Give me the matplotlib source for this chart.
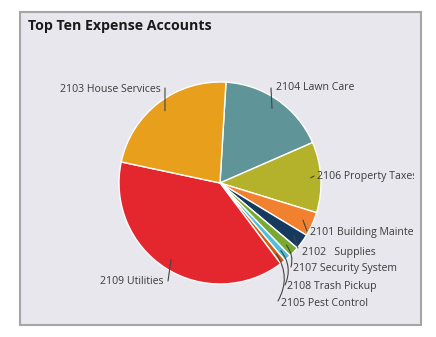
import numpy as np
import matplotlib

matplotlib.use("Agg")
import matplotlib.pyplot as plt
from matplotlib.patches import Rectangle
from matplotlib.transforms import Bbox, TransformedBbox

# accounts listed clockwise starting from the top of the pie
accounts = [
  "2104 Lawn Care",
  "2106 Property Taxes",
  "2101 Building Maintenance",
  "2102   Supplies",
  "2107 Security System",
  "2108 Trash Pickup",
  "2105 Pest Control",
  "2109 Utilities",
  "2103 House Services",
]
amounts = [17500, 11300, 3900, 2500, 1650, 1100, 850, 38600, 22600]
colors = [
  "#5f9599", "#b4b22a", "#f2812f", "#163a5f", "#78a931",
  "#4fc0dc", "#d35b0f", "#e4262e", "#e89f1b",
]

# label layout in figure pixels: (line end x, line end y, text x, text y, ha, curve)
label_layout = [
  (271, 88, 276, 87, "left", 0.0),
  (314, 176, 317, 176, "left", 0.0),
  (307, 231, 310, 232, "left", 0.0),
  (298, 248, 302, 252, "left", 0.0),
  (291, 267, 293, 269, "left", 0.25),
  (285, 285, 287, 287, "left", 0.3),
  (278, 301, 281, 303, "left", 0.3),
  (168, 281, 163, 282, "right", 0.0),
  (165, 88, 161, 90, "right", 0.0),
]

W, H = 436, 337
CX, CY, R = 220, 183, 101


def to_data(x, y):
  return (x - CX) / R, (CY - y) / R


fig = plt.figure(figsize=(W / 100, H / 100), dpi=100)
fig.patch.set_facecolor("white")
fig.patches.append(Rectangle(
  (20 / W, (H - 325) / H), 401 / W, 313 / H, transform=fig.transFigure,
  facecolor="#e7e7ed", edgecolor="#a5a5a5", linewidth=1.5, zorder=-5,
))

fig.text(28 / W, 1 - 26 / H, "Top Ten Expense Accounts", fontsize=10.2,
         fontweight="bold", family="Open Sans", color="#1a1a1a",
         va="center", ha="left")

ax = fig.add_axes([(CX - R) / W, (H - CY - R) / H, 2 * R / W, 2 * R / H])
ax.set_zorder(2)
ax.set_axis_off()

start = 90 - 3.4
wedges, _ = ax.pie(
  amounts, colors=colors, startangle=start, counterclock=False, radius=1,
  wedgeprops=dict(edgecolor="white", linewidth=1.0),
)
ax.set_xlim(-1, 1)
ax.set_ylim(-1, 1)

clip = TransformedBbox(Bbox([[0, 0], [414 / W, 1]]), fig.transFigure)

for wedge, name, (lx, ly, tx, ty, ha, rad) in zip(wedges, accounts, label_layout):
  mid = np.deg2rad((wedge.theta1 + wedge.theta2) / 2)
  anchor = (0.9 * np.cos(mid), 0.9 * np.sin(mid))
  ax.annotate(
    "", xy=anchor, xytext=to_data(lx, ly),
    arrowprops=dict(arrowstyle="-", color="#444444", lw=0.8,
                    shrinkA=0, shrinkB=0,
                    connectionstyle=f"arc3,rad={rad}"),
    annotation_clip=False,
  )
  t = ax.text(*to_data(tx, ty), name, fontsize=7.6, family="Open Sans",
              color="#3c3c3c", ha=ha, va="center")
  t.set_clip_box(clip)
  t.set_clip_on(True)

fig.savefig("out.png", dpi=100)
